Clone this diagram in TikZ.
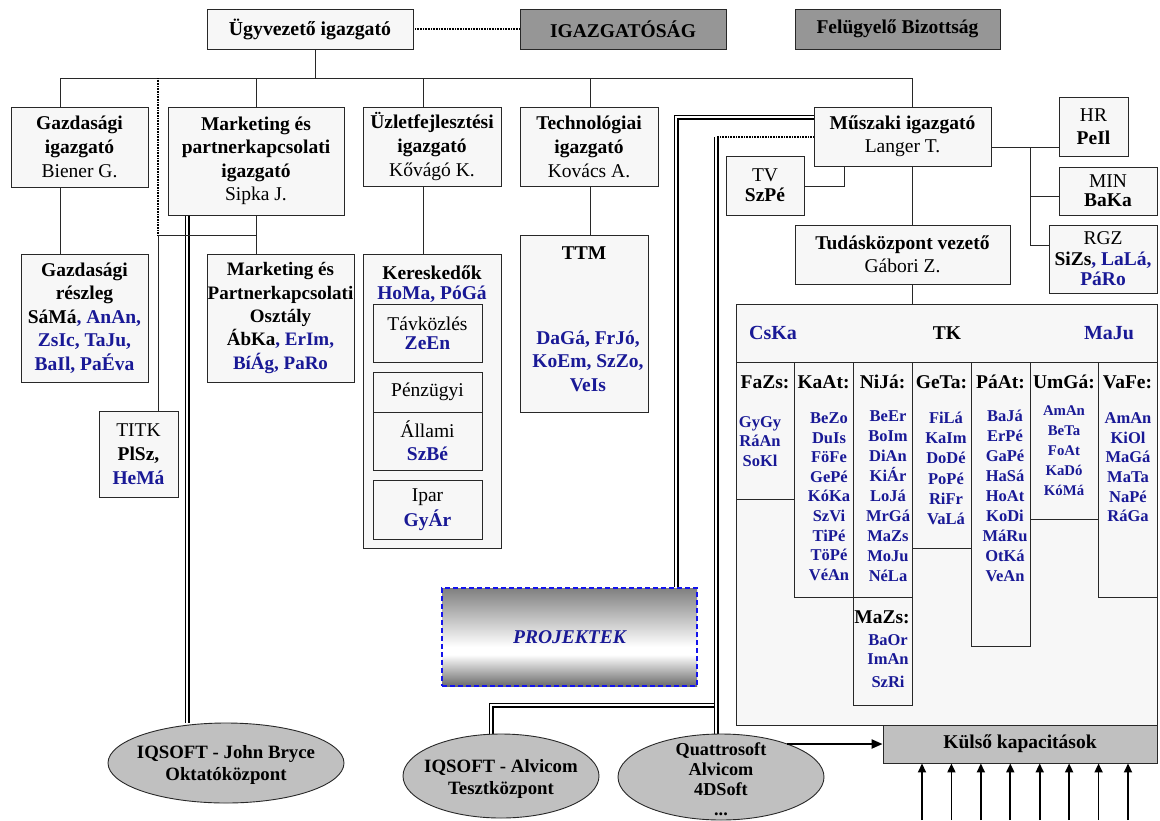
\documentclass[tikz,border=0pt]{standalone}
\usepackage{fontspec}
\setmainfont{Liberation Serif}
\usetikzlibrary{shapes.geometric,arrows.meta}
\definecolor{nb}{RGB}{25,25,150}
\definecolor{boxfill}{RGB}{247,247,247}
\definecolor{darkfill}{RGB}{150,150,150}
\definecolor{ellfill}{RGB}{192,192,192}
\definecolor{edge}{RGB}{40,40,40}
\definecolor{projblue}{RGB}{20,20,235}
\pgfdeclarelayer{back}
\pgfdeclarelayer{bg}
\pgfsetlayers{back,bg,main}
% grey-white-grey band of the project box (the path covers 25bp..75bp)
\pgfdeclareverticalshading{projshade}{100bp}{color(0bp)=(black!58); color(25bp)=(black!58);
  color(41bp)=(white); color(45bp)=(white); color(75bp)=(black!50); color(100bp)=(black!50)}

% one column of member codes, one node per code
\newcommand\namecolumn[6]{%
  \foreach \n [count=\k from 0] in {#5}
    \node[#6] (#1-\k) at (#2,{#3+#4*\k}) {\n};}

\begin{document}
\begin{tikzpicture}[x=1pt,y=-1pt,
  rect/.style n args={4}{minimum width={(#3)-(#1)}, minimum height={(#4)-(#2)},
                         at={({((#1)+(#3))/2},{((#2)+(#4))/2})}},
  box/.style={draw=edge, line width=0.9pt, fill=boxfill, inner sep=0pt, align=center,
              font=\fontsize{19.5}{24}\selectfont},
  darkbox/.style={box, fill=darkfill},
  ln/.style={draw=edge, line width=0.9pt},
  dotln/.style={draw=black, line width=1.3pt, dash pattern=on 0.8pt off 0.8pt},
  dbl/.style={draw=black, double=white, double distance=1.8pt, line width=1.6pt},
  nm/.style={inner sep=0pt, text=nb, font=\fontsize{16.5}{19}\selectfont\bfseries,
             text height=10.9pt, text depth=0pt},
  nms/.style={nm, font=\fontsize{14.8}{19}\selectfont\bfseries, text height=9.8pt},
  hd/.style={inner sep=0pt, font=\fontsize{19.5}{23}\selectfont\bfseries,
             text height=12.9pt, text depth=0pt},
  ell/.style={ellipse, draw=edge, line width=0.9pt, fill=ellfill, inner sep=0pt},
  etx/.style={inner sep=0pt, align=center, font=\fontsize{18.8}{22}\selectfont\bfseries},
  uparr/.style={draw=black, line width=1.8pt, -{Triangle[length=9pt,width=8pt]}},
]
\useasboundingbox (0,0) rectangle (1160,820);

% ---- board level ----
\node[box, rect={207}{9}{413}{49}, font=\fontsize{19.8}{23}\selectfont\bfseries] (ugy) {Ügyvezető igazgató};
\node[darkbox, rect={520}{9}{726}{49}, font=\fontsize{19.5}{23}\selectfont\bfseries] (igaz) {IGAZGATÓSÁG};
\node[darkbox, rect={795}{9}{1000}{49}, font=\fontsize{19.5}{23}\selectfont\bfseries] (fb) {Felügyelő Bizottság};

% ---- directors ----
\node[box, rect={11}{107}{148}{187}] (gazd) {\textbf{Gazdasági}\\\textbf{igazgató}\\Biener G.};
\node[box, rect={168}{107}{344}{215}, font=\fontsize{19.5}{23.5}\selectfont] (mark) {\textbf{Marketing és}\\\textbf{partnerkapcsolati}\\\textbf{igazgató}\\Sipka J.};
\node[box, rect={363}{107}{501}{186}] (uzl) {\textbf{Üzletfejlesztési}\\\textbf{igazgató}\\Kővágó K.};
\node[box, rect={520}{107}{658}{186}] (tech) {\textbf{Technológiai}\\\textbf{igazgató}\\Kovács A.};
\node[box, rect={814}{107}{991}{166}, font=\fontsize{19.5}{23}\selectfont] (musz) {\textbf{Műszaki igazgató}\\Langer T.};
\node[box, rect={1059}{97}{1128}{156}, font=\fontsize{19.5}{23}\selectfont] (hr) {HR\\\textbf{PeIl}};
\node[box, rect={1059}{167}{1157}{215}, font=\fontsize{19.5}{19}\selectfont] (min) {MIN\\\textbf{BaKa}};
\node[box, rect={1049}{225}{1157}{293}, font=\fontsize{19.5}{20.5}\selectfont] (rgz) {RGZ\\\textbf{SiZs}\textcolor{nb}{\textbf{, LaLá,}}\\\textcolor{nb}{\textbf{PáRo}}};
\node[box, rect={726}{156}{804}{215}, font=\fontsize{19.5}{20}\selectfont] (tv) {TV\\\textbf{SzPé}};
\node[box, rect={795}{225}{1010}{284}, font=\fontsize{19.5}{23}\selectfont] (tud) {\textbf{Tudásközpont vezető}\\Gábori Z.};

% ---- departments ----
\node[box, rect={21}{254}{148}{382}, font=\fontsize{19.5}{23.5}\selectfont] (gr) {\textbf{Gazdasági}\\\textbf{részleg}\\\textbf{SáMá}\textcolor{nb}{\textbf{, AnAn,}}\\\textcolor{nb}{\textbf{ZsIc, TaJu,}}\\\textcolor{nb}{\textbf{BaIl, PaÉva}}};
\node[box, rect={207}{254}{354}{382}, font=\fontsize{19}{23.3}\selectfont] (mo) {\textbf{Marketing és}\\\textbf{Partnerkapcsolati}\\\textbf{Osztály}\\\textbf{ÁbKa}\textcolor{nb}{\textbf{, ErIm,}}\\\textcolor{nb}{\textbf{BíÁg, PaRo}}};
\node[box, rect={99}{411}{178}{497}, font=\fontsize{19.5}{24}\selectfont] (titk) {TITK\\\textbf{PlSz,}\\\textcolor{nb}{\textbf{HeMá}}};

\node[box, rect={363}{254}{501}{548}] (ker) {};
\node[hd] (kert) at (432,273) {Kereskedők};
\node[hd, text=nb] (kern) at (432,293) {HoMa, PóGá};
\node[box, rect={373}{304}{482}{362}, font=\fontsize{19.5}{19}\selectfont] (tav) {Távközlés\\\textcolor{nb}{\textbf{ZeEn}}};
\node[box, rect={373}{372}{482}{412}] (pen) {Pénzügyi};
\node[box, rect={373}{412}{482}{470}, font=\fontsize{19.5}{23}\selectfont] (all) {Állami\\\textcolor{nb}{\textbf{SzBé}}};
\node[box, rect={373}{480}{482}{539}, font=\fontsize{19.5}{25}\selectfont] (ipar) {Ipar\\\textcolor{nb}{\textbf{GyÁr}}};

\node[box, rect={520}{235}{648}{412}] (ttm) {};
\node[hd] (ttmt) at (584,253) {TTM};
\node[inner sep=0pt, align=center, text=nb, font=\fontsize{19.5}{23.5}\selectfont\bfseries] (ttmn) at (588,361) {DaGá, FrJó,\\KoEm, SzZo,\\VeIs};

% ---- knowledge centre ----
\node[box, rect={736}{304}{1157}{725}] (tk) {};
\node[hd, text=nb, font=\fontsize{20}{23}\selectfont\bfseries] (cska) at (773,333) {CsKa};
\node[hd] (tkt) at (947,333) {TK};
\node[hd, text=nb, font=\fontsize{20}{23}\selectfont\bfseries] (maju) at (1109,333) {MaJu};

\node[box, rect={736}{362}{794}{499}] (c1) {};
\node[box, rect={794}{362}{853}{597}] (c2) {};
\node[box, rect={853}{362}{912}{597}] (c3) {};
\node[box, rect={853}{597}{912}{705}] (c3b) {};
\node[box, rect={912}{362}{971}{548}] (c4) {};
\node[box, rect={971}{362}{1030}{646}] (c5) {};
\node[box, rect={1030}{362}{1098}{519}] (c6) {};
\node[box, rect={1098}{362}{1157}{597}] (c7) {};

\node[hd] (h1) at (765,382) {FaZs:};
\node[hd] (h2) at (823.5,382) {KaAt:};
\node[hd] (h3) at (882.5,382) {NiJá:};
\node[hd] (h3b) at (882,617) {MaZs:};
\node[hd] (h4) at (941.5,382) {GeTa:};
\node[hd] (h5) at (1000.5,382) {PáAt:};
\node[hd] (h6) at (1064,382) {UmGá:};
\node[hd] (h7) at (1127.5,382) {VaFe:};

\namecolumn{n1}{760}{422}{19.5}{GyGy,RáAn,SoKl}{nm}
\namecolumn{n2}{829}{418}{19.6}{BeZo,DuIs,FöFe,GePé,KóKa,SzVi,TiPé,TöPé,VéAn}{nm}
\namecolumn{n3}{888}{416}{20}{BeEr,BoIm,DiAn,KiÁr,LoJá,MrGá,MaZs,MoJu,NéLa}{nm}
\node[nm] (n3b-0) at (888,640) {BaOr};
\node[nm] (n3b-1) at (888,659) {ImAn};
\node[nm] (n3b-2) at (888,682) {SzRi};
\namecolumn{n4}{946}{418}{20.2}{FiLá,KaIm,DoDé,PoPé,RiFr,VaLá}{nm}
\namecolumn{n5}{1005}{416}{20}{BaJá,ErPé,GaPé,HaSá,HoAt,KoDi,MáRu,OtKá,VeAn}{nm}
\namecolumn{n6}{1064}{411}{20}{AmAn,BeTa,FoAt,KaDó,KóMá}{nms}
\namecolumn{n7}{1128}{418}{19.7}{AmAn,KiOl,MaGá,MaTa,NaPé,RáGa}{nm}

% ---- projects and partners ----
\node[rect={442}{588}{697}{686}, inner sep=0pt, draw=projblue, line width=1.6pt,
      dash pattern=on 5pt off 3pt, shading=projshade,
      text=nb, font=\fontsize{19.5}{23}\selectfont\bfseries\itshape] (proj) {PROJEKTEK};

\node[ell, minimum width=236pt, minimum height=80pt] (jb) at (226,763) {};
\node[etx] (jbt) at (226,765) {IQSOFT - John Bryce\\Oktatóközpont};
\node[ell, minimum width=196pt, minimum height=84pt] (alv) at (501,776) {};
\node[etx] (alvt) at (501,779) {IQSOFT - Alvicom\\Tesztközpont};
\node[ell, minimum width=206pt, minimum height=86pt] (qs) at (721,777) {};
\node[etx, font=\fontsize{18.2}{20}\selectfont\bfseries] (qst) at (721,779) {Quattrosoft\\Alvicom\\4DSoft\\...};

\node[box, fill=ellfill, rect={883}{725}{1157}{763}, font=\fontsize{19.5}{23}\selectfont\bfseries] (kul) {Külső kapacitások};

% ---- connectors ----
\begin{pgfonlayer}{back}
  \fill[white] (0,0) rectangle (1160,820);
\end{pgfonlayer}
\begin{pgfonlayer}{bg}
  \coordinate (bus) at (315,78);
  \coordinate (bL) at (60,78);
  \coordinate (bR) at (912,78);
  \coordinate (dD) at (158,78);
  \coordinate (dM) at (256,78);
  \coordinate (dU) at (423,78);
  \coordinate (dT) at (590,78);
  \coordinate (jD) at (158,235);
  \coordinate (jM) at (256,235);
  \draw[dotln] (ugy.east) -- (igaz.west);
  \draw[ln] (bus |- ugy.south) -- (bus);
  \draw[ln] (bL |- gazd.north) -- (bL) -- (bR) -- (bR |- musz.north);
  \draw[ln] (dM) -- (dM |- mark.north);
  \draw[ln] (dU) -- (dU |- uzl.north);
  \draw[ln] (dT) -- (dT |- tech.north);
  \draw[dotln] (dD) -- (jD);
  \draw[ln] (bL |- gazd.south) -- (bL |- gr.north);
  \draw[ln] (dU |- uzl.south) -- (dU |- ker.north);
  \draw[ln] (dT |- tech.south) -- (dT |- ttm.north);

  % technical director branch
  \coordinate (hrj) at (1030,147);
  \coordinate (minj) at (1030,196);
  \coordinate (rgzj) at (1030,245);
  \coordinate (tvj) at (844,186);
  \draw[ln] (hrj -| musz.east) -- (hrj -| hr.west);
  \draw[ln] (hrj) -- (rgzj) -- (rgzj -| rgz.west);
  \draw[ln] (minj) -- (minj -| min.west);
  \draw[ln] (tvj -| tv.east) -- (tvj) -- (tvj |- musz.south);
  \draw[ln] (bR |- musz.south) -- (bR |- tud.north);
  \draw[ln] (bR |- tud.south) -- (bR |- tk.north);

  % partner links
  \coordinate (mj) at (187,0);
  \coordinate (oc) at (676,117);
  \coordinate (ic) at (716,137);
  \coordinate (ac) at (491,705);
  \draw[dbl] (mj |- mark.south) -- (mj |- jb.north);
  \draw[dbl] (oc |- proj.north) -- (oc) -- (oc -| musz.west);
  \draw[dotln] (ic -| musz.west) -- (ic);
  \draw[dbl] (ac |- alv.north) -- (ac) -- (ac -| ic);
  \draw[dbl] (ic) -- (ic |- qs.north);

  % marketing director's units
  \draw[ln] (dM |- mark.south) -- (dM |- mo.north);
  \draw[ln] (jM) -- (jD) -- (jD |- titk.north);
\end{pgfonlayer}

\coordinate (qsa) at (787,744);
\draw[line width=2.2pt, -{Triangle[length=11pt,width=9pt]}] (qsa) -- (kul.west);
\foreach \i in {0,...,7} {
  \coordinate (ua\i) at ({922+29.43*\i},820);
  \draw[uparr] (ua\i) -- (ua\i |- kul.south);
}
\end{tikzpicture}
\end{document}
